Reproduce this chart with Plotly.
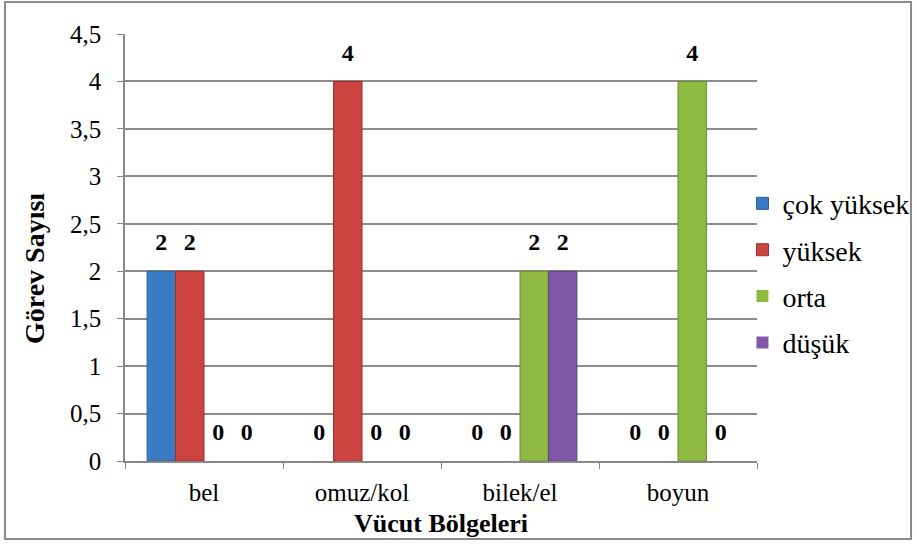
import plotly.graph_objects as go

categories = ["bel", "omuz/kol", "bilek/el", "boyun"]
series_names = ["çok yüksek", "yüksek", "orta", "düşük"]
cok_yuksek = [2, 0, 0, 0]
yuksek = [2, 4, 0, 0]
orta = [0, 0, 2, 4]
dusuk = [0, 0, 2, 0]
y_tick_vals = [0, 0.5, 1, 1.5, 2, 2.5, 3, 3.5, 4, 4.5]
y_tick_text = ["0", "0,5", "1", "1,5", "2", "2,5", "3", "3,5", "4", "4,5"]

series_values = [cok_yuksek, yuksek, orta, dusuk]
colors = ["#3B7AC4", "#CC4340", "#8FBA42", "#7F58A6"]
edges = ["#2C5D96", "#9A2F2D", "#6B8C30", "#5E3F7E"]

FONT = "Liberation Serif"

fig = go.Figure()
for name, vals, c, e in zip(series_names, series_values, colors, edges):
    fig.add_trace(go.Bar(
        x=categories, y=vals, name=name, offsetgroup=name, legendgroup=name,
        marker=dict(color=c, line=dict(color=e, width=[1 if v > 0 else 0 for v in vals])),
        hoverinfo="x+y+name",
    ))
for name, vals in zip(series_names, series_values):
    fig.add_trace(go.Scatter(
        x=categories, y=vals, offsetgroup=name, mode="markers+text",
        text=[f"<b>{v}</b>" for v in vals], textposition="top center",
        textfont=dict(family=FONT, size=24, color="#000000"),
        marker=dict(size=22, opacity=0), showlegend=False, hoverinfo="skip",
        cliponaxis=False,
    ))

fig.update_layout(
    width=917, height=544,
    margin=dict(l=125, r=160, t=34, b=83, autoexpand=False),
    paper_bgcolor="white", plot_bgcolor="white",
    barmode="group", bargap=0.28, bargroupgap=0,
    scattermode="group", scattergap=0.28,
    separators=",.",
    font=dict(family=FONT, size=24, color="#000000"),
    legend=dict(x=0.977, xanchor="left", y=0.44, yanchor="middle",
                font=dict(family=FONT, size=28, color="#000000"), tracegroupgap=7,
                bgcolor="rgba(0,0,0,0)"),
    xaxis=dict(
        title=dict(text="<b>Vücut Bölgeleri</b>", font=dict(family=FONT, size=26), standoff=9),
        showline=True, linecolor="#888888", linewidth=1.5,
        ticks="outside", tickson="boundaries", ticklen=6, tickcolor="#888888",
        tickfont=dict(family=FONT, size=25), showgrid=False, ticklabelstandoff=8,
        automargin=False,
    ),
    yaxis=dict(
        title=dict(text="<b>Görev Sayısı" + "&nbsp;" * 6 + "</b>",
                   font=dict(family=FONT, size=28), standoff=17),
        range=[0, 4.5], tickvals=y_tick_vals, ticktext=y_tick_text,
        showline=True, linecolor="#888888", linewidth=1.5,
        ticks="outside", ticklen=6, tickcolor="#888888",
        showgrid=True, gridcolor="#8C8C8C", gridwidth=1.5,
        tickfont=dict(family=FONT, size=25), zeroline=False,
        ticklabelstandoff=11, automargin=False,
    ),
    shapes=[dict(type="rect", xref="paper", yref="paper",
                 x0=-0.1899, x1=1.2437, y0=-0.1827, y1=1.0749,
                 line=dict(color="#8A8A8A", width=2), layer="below")],
)

fig.write_html("out.html", post_script="document.body.style.margin='0';",
               config={"displayModeBar": False})
